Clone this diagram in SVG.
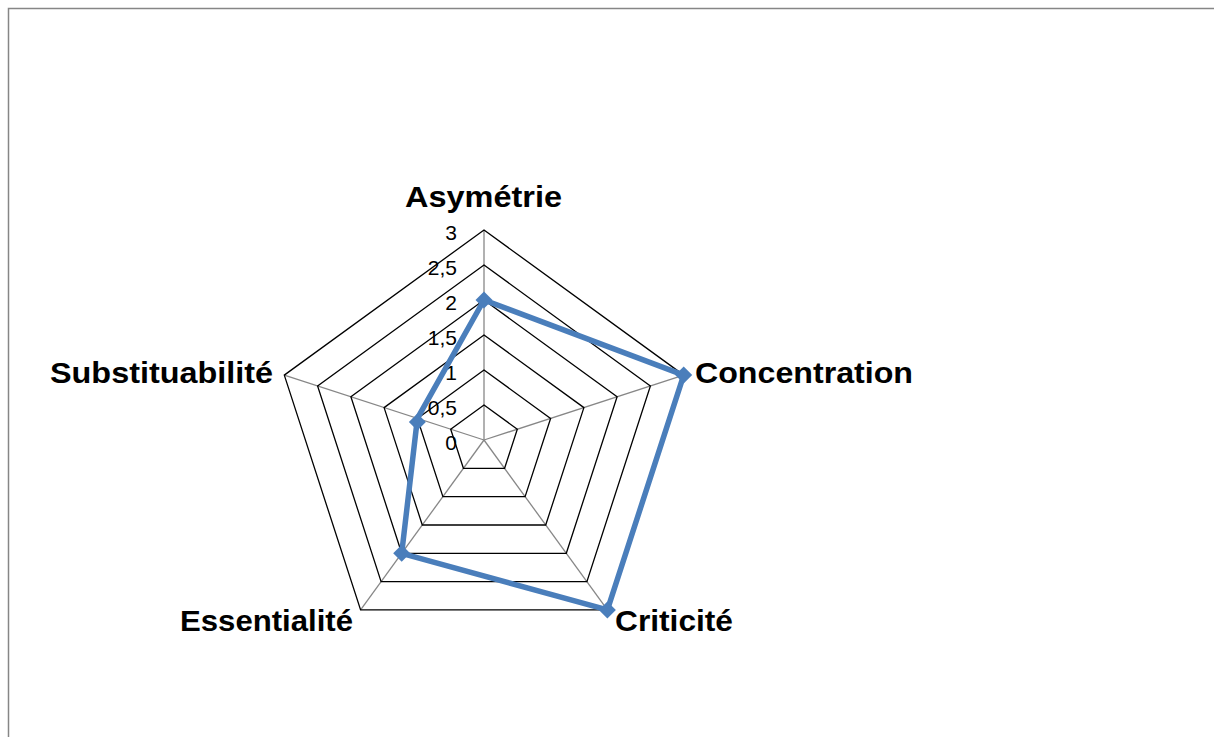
<svg xmlns="http://www.w3.org/2000/svg" width="1214" height="737" viewBox="0 0 1214 737">
<style>
.ring{fill:none;stroke:#000;stroke-width:1.3}
.spoke{stroke:#878787;stroke-width:1.3}
.tick{font-family:"Liberation Sans",Arial,sans-serif;font-size:21px;fill:#000;text-anchor:end}
.cat{font-family:"Liberation Sans",Arial,sans-serif;font-size:30px;font-weight:bold;fill:#000}
.series{fill:none;stroke:#4a7ebb;stroke-width:5.5;stroke-linejoin:round}
.mk{fill:#4a7ebb}
</style>
<defs>
<path id="dia" d="M0,-8.5 L8.5,0 L0,8.5 L-8.5,0 Z"/>
</defs>
<rect x="0" y="0" width="1214" height="737" fill="#fff"/>
<rect x="8.5" y="8.5" width="1230" height="760" fill="none" stroke="#868686" stroke-width="1.5"/>
<g id="grid">
<g id="spokes">
<line class="spoke" x1="484" y1="440" x2="484" y2="230"/>
<line class="spoke" x1="484" y1="440" x2="683.7" y2="375.1"/>
<line class="spoke" x1="484" y1="440" x2="607.4" y2="609.9"/>
<line class="spoke" x1="484" y1="440" x2="360.6" y2="609.9"/>
<line class="spoke" x1="484" y1="440" x2="284.3" y2="375.1"/>
</g>
<g id="rings">
<polygon class="ring" points="484,405 517.3,429.2 504.6,468.3 463.4,468.3 450.7,429.2"/>
<polygon class="ring" points="484,370 550.6,418.4 525.1,496.6 442.9,496.6 417.4,418.4"/>
<polygon class="ring" points="484,335 583.9,407.6 545.7,525 422.3,525 384.1,407.6"/>
<polygon class="ring" points="484,300 617.1,396.7 566.3,553.3 401.7,553.3 350.9,396.7"/>
<polygon class="ring" points="484,265 650.4,385.9 586.9,581.6 381.1,581.6 317.6,385.9"/>
<polygon class="ring" points="484,230 683.7,375.1 607.4,609.9 360.6,609.9 284.3,375.1"/>
</g>
</g>
<g id="ticks">
<text class="tick" x="457" y="450">0</text>
<text class="tick" x="457" y="415">0,5</text>
<text class="tick" x="457" y="380">1</text>
<text class="tick" x="457" y="345">1,5</text>
<text class="tick" x="457" y="310">2</text>
<text class="tick" x="457" y="275">2,5</text>
<text class="tick" x="457" y="240">3</text>
</g>
<g id="series">
<polygon class="series" points="484,300 683.7,375.1 607.4,609.9 401.7,553.3 417.4,418.4"/>
<use href="#dia" class="mk" x="484" y="300"/>
<use href="#dia" class="mk" x="683.7" y="375.1"/>
<use href="#dia" class="mk" x="607.4" y="609.9"/>
<use href="#dia" class="mk" x="401.7" y="553.3"/>
<use href="#dia" class="mk" x="417.4" y="422"/>
</g>
<g id="node-asymetrie"><text class="cat" x="405" y="207" textLength="157" lengthAdjust="spacingAndGlyphs">Asymétrie</text></g>
<g id="node-concentration"><text class="cat" x="695" y="383" textLength="218" lengthAdjust="spacingAndGlyphs">Concentration</text></g>
<g id="node-criticite"><text class="cat" x="615" y="631" textLength="118" lengthAdjust="spacingAndGlyphs">Criticité</text></g>
<g id="node-essentialite"><text class="cat" x="180" y="631" textLength="173" lengthAdjust="spacingAndGlyphs">Essentialité</text></g>
<g id="node-substituabilite"><text class="cat" x="50" y="383" textLength="223" lengthAdjust="spacingAndGlyphs">Substituabilité</text></g>
</svg>
